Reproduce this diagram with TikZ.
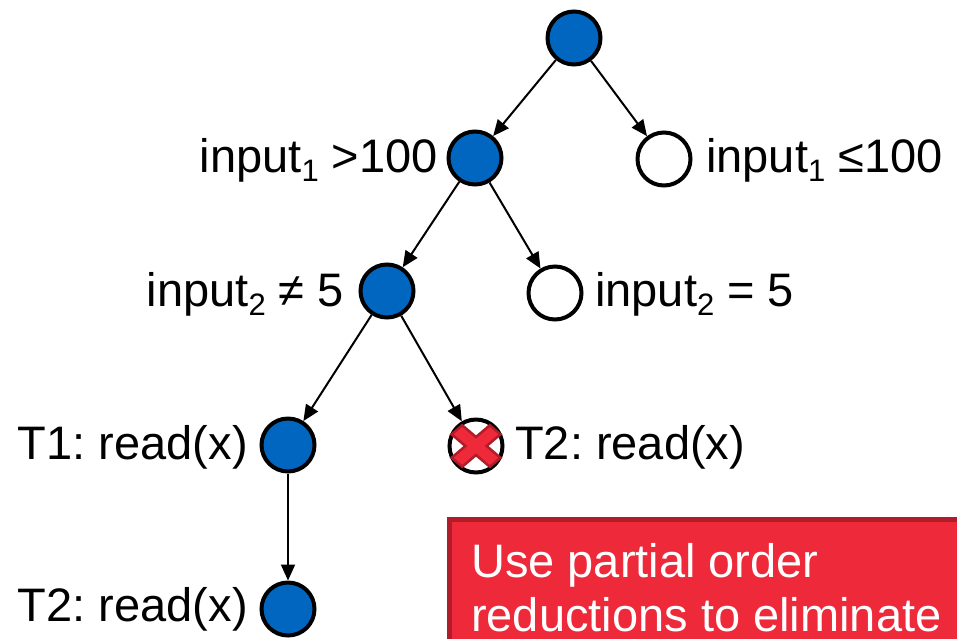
\documentclass[tikz,border=0pt]{standalone}
\usepackage{fontspec}
\setmainfont{Liberation Sans}
\frenchspacing
\usetikzlibrary{arrows.meta,calc}
\definecolor{nodeblue}{RGB}{0,102,192}
\definecolor{alertred}{RGB}{237,41,58}
\definecolor{alertdark}{RGB}{178,28,42}
% lowered, smaller index digit
\newcommand{\lowidx}[1]{\raisebox{-9pt}{\fontsize{31}{31}\selectfont #1}}
\begin{document}
\begin{tikzpicture}[x=1pt,y=-1pt,
  state/.style={circle, draw=black, line width=4pt, minimum size=53pt, inner sep=0pt},
  taken/.style={state, fill=nodeblue},
  open/.style={state, fill=white},
  edge/.style={line width=2pt, -{Triangle[length=16pt,width=14pt]}},
  lbl/.style={inner sep=0pt, font=\fontsize{47}{56}\selectfont},
  boxtext/.style={lbl, text=white}]
\useasboundingbox (0,0) rectangle (957,638);

% search tree
\node[taken] (root) at (574,38) {};
\node[taken] (n1)  at (475,158) {};
\node[open]  (n1r) at (664,159) {};
\node[taken] (n2)  at (387,291) {};
\node[open]  (n2r) at (555,293) {};
\node[taken] (n3)  at (288,445) {};
\node[open]  (n3r) at (476,446) {};
\node[taken] (n4)  at (288,609) {};

\draw[edge] (root) -- (n1);
\draw[edge] (root) -- (n1r);
\draw[edge] (n1) -- (n2);
\draw[edge] (n1) -- (n2r);
\draw[edge] (n2) -- (n3);
\draw[edge] (n2) -- (n3r);
\draw[edge] (n3) -- (n4);

% pruned branch marker
\begin{scope}[shift={(n3r.center)}, yscale=0.85, rotate=45]
  \filldraw[fill=alertred, draw=alertdark, line width=2.5pt]
    (7.5,7.5) -- (27,7.5) -- (27,-7.5) -- (7.5,-7.5) -- (7.5,-27) -- (-7.5,-27)
    -- (-7.5,-7.5) -- (-27,-7.5) -- (-27,7.5) -- (-7.5,7.5) -- (-7.5,27) -- (7.5,27) -- cycle;
\end{scope}

% branch conditions and events
\node[lbl, anchor=base east] (l1)  at (438,172) {input\lowidx{1} >100};
\node[lbl, anchor=base west] (l1r) at (706,172) {input\lowidx{1} ≤100};
\node[lbl, anchor=base east] (l2)  at (344,306) {input\lowidx{2} ≠ 5};
\node[lbl, anchor=base west] (l2r) at (595,306) {input\lowidx{2} = 5};
\node[lbl, anchor=base east] (l3)  at (248,459) {T1: read(x)};
\node[lbl, anchor=base west] (l3r) at (515,459) {T2: read(x)};
\node[lbl, anchor=base east] (l4)  at (248,621) {T2: read(x)};

% call-out box
\filldraw[fill=alertred, draw=alertdark, line width=5pt]
  (449.5,519.5) rectangle (970,660);
\node[boxtext, anchor=base west] (b1) at (471,577) {Use partial order};
\node[boxtext, anchor=base west] (b2) at (471,631) {reductions to eliminate};
\end{tikzpicture}
\end{document}
